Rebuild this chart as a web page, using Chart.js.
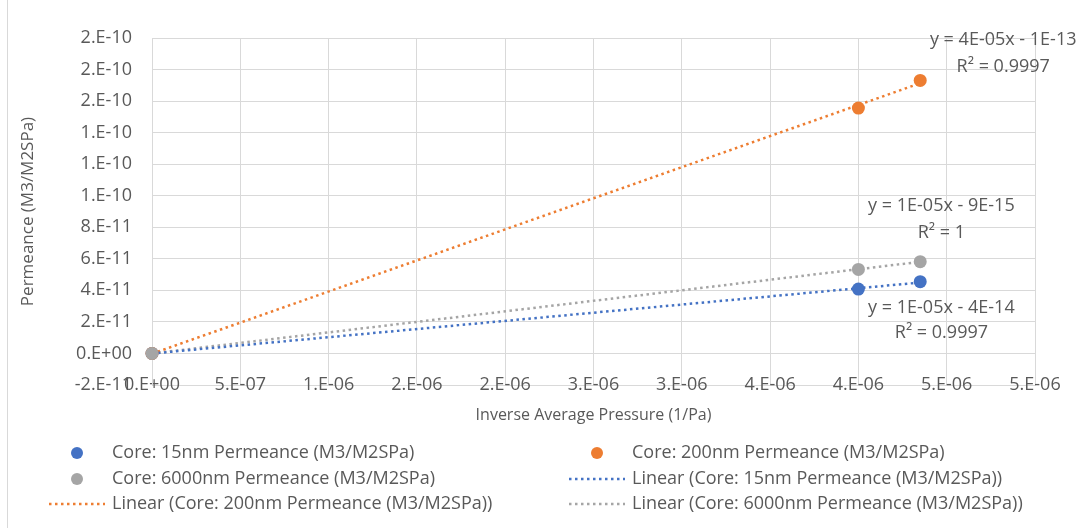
<!DOCTYPE html>
<html lang="en">
<head>
  <meta charset="UTF-8">
  <title>Permeance vs Inverse Average Pressure</title>
  <script src="https://cdn.jsdelivr.net/npm/chart.js"></script>
  <style>
    body {
      margin: 0;
      background: #fff;
    }
    #wrap {
      position: relative;
      width: 1088px;
      height: 528px;
    }
  </style>
</head>
<body>
  <div id="wrap">
    <canvas id="permChart" width="1088" height="528"></canvas>
  </div>

  <script>
    // Values
    const inversePressure = [0, 4.0e-6, 4.35e-6];
    const perm15 = [0, 4.08e-11, 4.55e-11];
    const perm200 = [0, 1.556e-10, 1.731e-10];
    const perm6000 = [0, 5.33e-11, 5.82e-11];

    const seriesNames = [
      'Core: 15nm Permeance (M3/M2SPa)',
      'Core: 200nm Permeance (M3/M2SPa)',
      'Core: 6000nm Permeance (M3/M2SPa)'
    ];
    const seriesColors = ['#4472C4', '#ED7D31', '#A5A5A5'];

    const xTickLabels = ['0.E+00', '5.E-07', '1.E-06', '2.E-06', '2.E-06', '3.E-06',
                         '3.E-06', '4.E-06', '4.E-06', '5.E-06', '5.E-06'];
    const yTickLabels = ['-2.E-11', '0.E+00', '2.E-11', '4.E-11', '6.E-11', '8.E-11',
                         '1.E-10', '1.E-10', '1.E-10', '2.E-10', '2.E-10', '2.E-10'];

    // Trendline labels as Excel printed them
    const trendEquations = ['y = 1E-05x - 4E-14', 'y = 4E-05x - 1E-13', 'y = 1E-05x - 9E-15'];
    const trendR2 = ['R² = 0.9997', 'R² = 0.9997', 'R² = 1'];
    // where each label sits, in data units (centre of text)
    const labelSpots = [
      { x: 4.47e-6, y: 2.88e-11, y2: 1.29e-11 },
      { x: 4.82e-6, y: 1.99e-10, y2: 1.82e-10 },
      { x: 4.47e-6, y: 9.35e-11, y2: 7.64e-11 }
    ];

    const textColor = '#595959';
    const gridColor = '#D9D9D9';
    const fontFamily = '"Open Sans", "Liberation Sans", sans-serif';

    // least squares fit
    function linFit(xs, ys) {
      const n = xs.length;
      const mx = xs.reduce((a, b) => a + b, 0) / n;
      const my = ys.reduce((a, b) => a + b, 0) / n;
      let sxy = 0, sxx = 0;
      for (let i = 0; i < n; i++) {
        sxy += (xs[i] - mx) * (ys[i] - my);
        sxx += (xs[i] - mx) * (xs[i] - mx);
      }
      const m = sxy / sxx;
      return { m: m, b: my - m * mx };
    }

    const allSeries = [perm15, perm200, perm6000];
    const xMin = Math.min(...inversePressure);
    const xMax = Math.max(...inversePressure);

    const pointSets = allSeries.map((ys, i) => ({
      type: 'scatter',
      label: seriesNames[i],
      data: inversePressure.map((x, j) => ({ x: x, y: ys[j] })),
      backgroundColor: seriesColors[i],
      borderColor: seriesColors[i],
      pointRadius: 6.5,
      pointBorderWidth: 0,
      clip: false,
      order: 3 - i
    }));

    const trendSets = allSeries.map((ys, i) => {
      const fit = linFit(inversePressure, ys);
      return {
        type: 'line',
        label: 'Linear (' + seriesNames[i] + ')',
        data: [
          { x: xMin, y: fit.m * xMin + fit.b },
          { x: xMax, y: fit.m * xMax + fit.b }
        ],
        borderColor: seriesColors[i],
        borderWidth: 2.5,
        borderDash: [2.5, 3.5],
        pointRadius: 0,
        fill: false,
        order: 10
      };
    });

    // chart border + trendline labels + 2-column legend like Excel
    const excelExtras = {
      id: 'excelExtras',
      beforeDraw(chart) {
        const c = chart.ctx;
        c.save();
        c.strokeStyle = gridColor;
        c.lineWidth = 1;
        c.beginPath();
        c.moveTo(7.5, 0);
        c.lineTo(7.5, chart.height);
        c.stroke();
        c.restore();
      },
      afterDatasetsDraw(chart) {
        const c = chart.ctx;
        const xs = chart.scales.x, ys = chart.scales.y;
        c.save();
        c.font = '18px ' + fontFamily;
        c.fillStyle = textColor;
        c.textAlign = 'center';
        c.textBaseline = 'middle';
        labelSpots.forEach((p, i) => {
          c.fillText(trendEquations[i], xs.getPixelForValue(p.x), ys.getPixelForValue(p.y));
          c.fillText(trendR2[i], xs.getPixelForValue(p.x), ys.getPixelForValue(p.y2));
        });
        c.restore();
      },
      afterDraw(chart) {
        const c = chart.ctx;
        const sets = chart.data.datasets;
        const colX = [49, 569];
        const rowY = [453, 479, 504];
        c.save();
        c.font = '18px ' + fontFamily;
        c.textBaseline = 'middle';
        c.textAlign = 'left';
        sets.forEach((ds, i) => {
          const x = colX[i % 2];
          const y = rowY[Math.floor(i / 2)];
          if (ds.type === 'scatter') {
            c.fillStyle = ds.backgroundColor;
            c.beginPath();
            c.arc(x + 28, y, 6, 0, Math.PI * 2);
            c.fill();
          } else {
            c.strokeStyle = ds.borderColor;
            c.lineWidth = 2.5;
            c.setLineDash(ds.borderDash);
            c.beginPath();
            c.moveTo(x, y);
            c.lineTo(x + 56, y);
            c.stroke();
            c.setLineDash([]);
          }
          c.fillStyle = textColor;
          c.fillText(ds.label, x + 63, y);
        });
        c.restore();
      }
    };

    const ctx = document.getElementById('permChart').getContext('2d');
    const chart = new Chart(ctx, {
      type: 'scatter',
      data: {
        datasets: [...pointSets, ...trendSets]
      },
      options: {
        responsive: false,
        animation: false,
        layout: {
          padding: { left: 8, top: 38, right: 53, bottom: 98 }
        },
        scales: {
          x: {
            type: 'linear',
            position: 'bottom',
            min: 0,
            max: 5e-6,
            afterFit: (s) => {
              s.height = 45;
              // labels sit across the bottom gridline, so don't clip them to the axis box
              s._computeLabelArea = () => undefined;
            },
            grid: { color: gridColor, drawTicks: false },
            border: { color: gridColor },
            ticks: {
              stepSize: 5e-7,
              autoSkip: false,
              maxRotation: 0,
              padding: -11,
              color: textColor,
              font: { family: fontFamily, size: 18 },
              callback: (v, i) => xTickLabels[i]
            },
            title: {
              display: true,
              text: 'Inverse Average Pressure (1/Pa)',
              color: textColor,
              font: { family: fontFamily, size: 16 },
              padding: { top: 0, bottom: 5 }
            }
          },
          y: {
            type: 'linear',
            min: -2e-11,
            max: 2e-10,
            afterFit: (s) => { s.width = 144; },
            grid: { color: gridColor, drawTicks: false },
            border: { color: gridColor },
            ticks: {
              stepSize: 2e-11,
              autoSkip: false,
              padding: 20,
              color: textColor,
              font: { family: fontFamily, size: 18 },
              callback: (v, i) => yTickLabels[i]
            },
            title: {
              display: true,
              text: 'Permeance (M3/M2SPa)',
              color: textColor,
              font: { family: fontFamily, size: 17 },
              padding: { top: 10, bottom: 0 }
            }
          }
        },
        plugins: {
          legend: { display: false },
          tooltip: { enabled: false }
        }
      },
      plugins: [excelExtras]
    });
  </script>
</body>
</html>
